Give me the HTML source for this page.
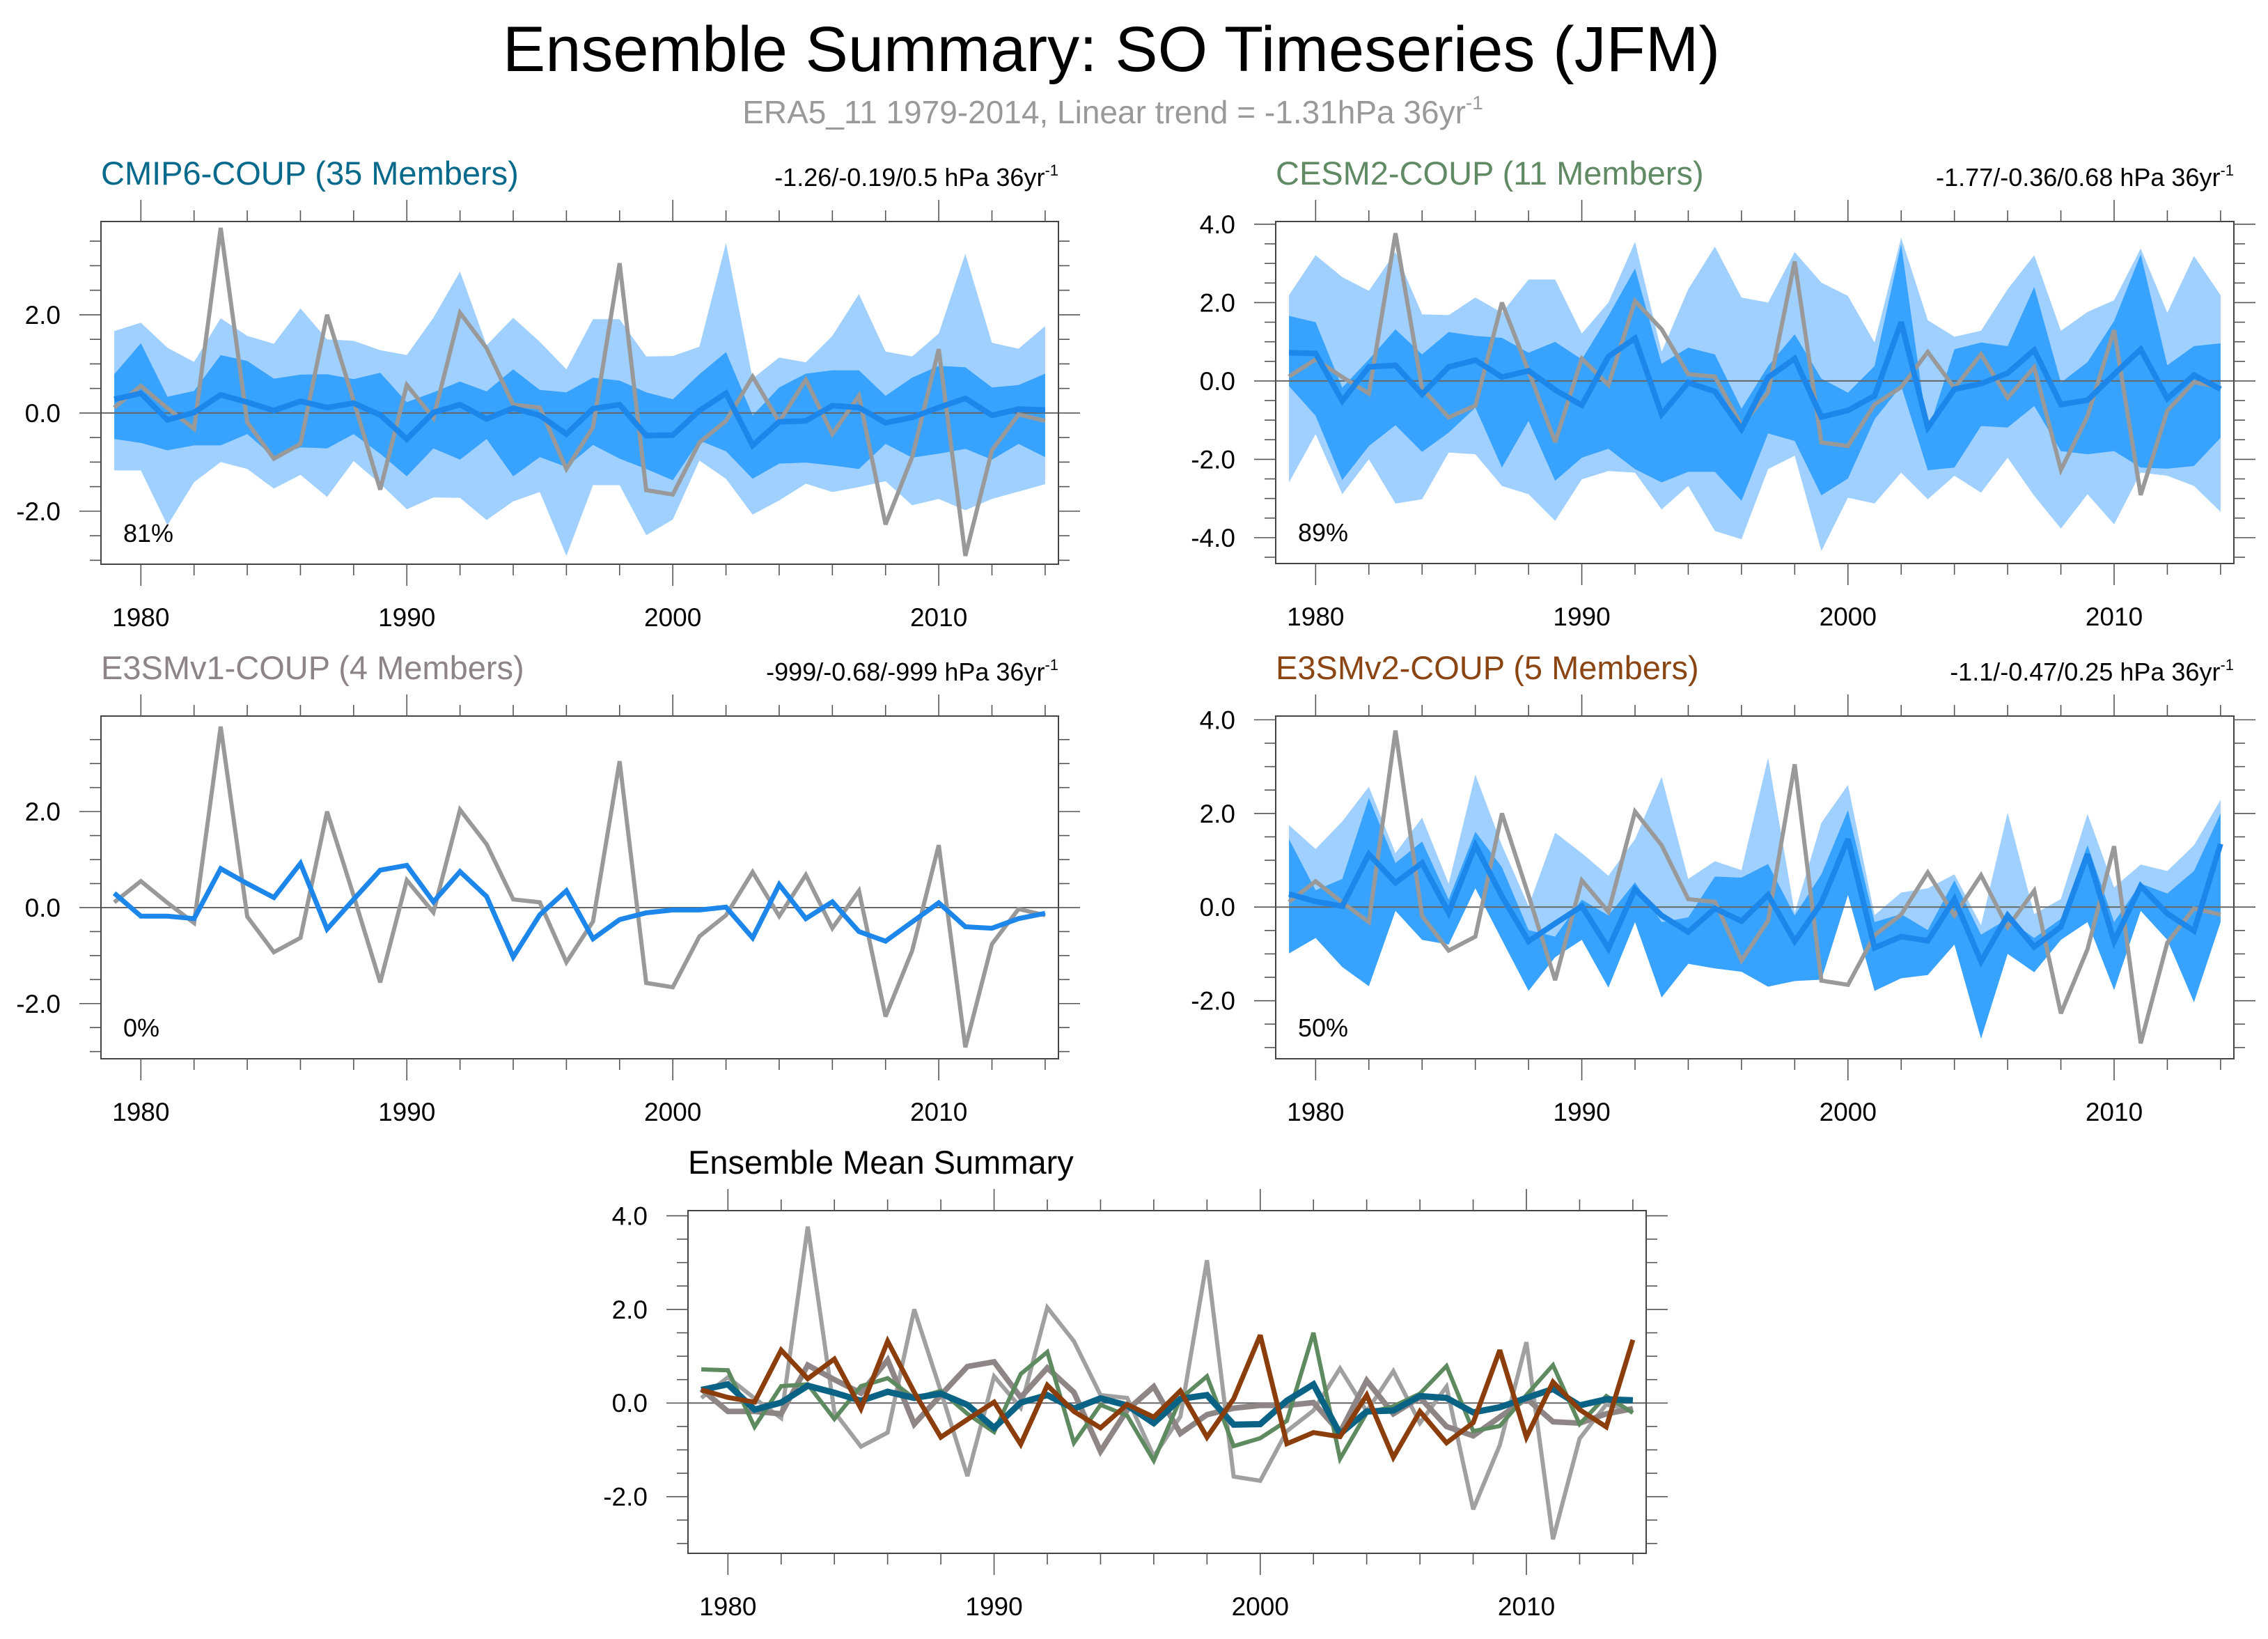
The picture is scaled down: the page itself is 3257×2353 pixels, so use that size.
<!DOCTYPE html>
<html><head><meta charset="utf-8"><style>
html,body{margin:0;padding:0;background:#fff;}
svg{display:block;font-family:"Liberation Sans",Arial,sans-serif;}
</style></head><body>
<svg id="chart" width="3257" height="2353" viewBox="0 0 3257 2353" xmlns="http://www.w3.org/2000/svg">
<rect width="3257" height="2353" fill="#fff"/>
<text x="1596" y="102" font-size="92" text-anchor="middle" fill="#000">Ensemble Summary: SO Timeseries (JFM)</text>
<text x="1598" y="177" font-size="46" text-anchor="middle" fill="#999">ERA5_11 1979-2014, Linear trend = -1.31hPa 36yr<tspan font-size="28" dy="-20">-1</tspan></text>
</svg>
<script>
const years = [];
for (let y = 1979; y <= 2014; y++) years.push(y);
const obs = [0.11,0.55,0.1,-0.32,3.77,-0.19,-0.93,-0.63,2.0,0.25,-1.56,0.57,-0.1,2.04,1.32,0.17,0.11,-1.14,-0.29,3.05,-1.57,-1.66,-0.6,-0.16,0.74,-0.18,0.68,-0.43,0.35,-2.27,-0.9,1.3,-2.91,-0.76,-0.03,-0.16];
const cmipMean = [0.28,0.4,-0.14,0.01,0.37,0.22,0.05,0.24,0.11,0.2,-0.04,-0.53,0.01,0.17,-0.12,0.1,-0.05,-0.43,0.09,0.17,-0.46,-0.45,0.05,0.4,-0.66,-0.18,-0.16,0.15,0.11,-0.2,-0.09,0.11,0.3,-0.05,0.08,0.06];
const cmipLightHi = [1.67,1.84,1.33,1.04,1.93,1.57,1.41,2.13,1.5,1.47,1.28,1.18,1.94,2.88,1.38,1.94,1.45,0.89,1.91,1.91,1.15,1.16,1.35,3.46,0.7,1.13,1.03,1.57,2.42,1.25,1.15,1.62,3.24,1.43,1.31,1.77];
const cmipLightLo = [-1.17,-1.17,-2.29,-1.41,-1.0,-1.14,-1.54,-1.26,-1.71,-0.98,-1.44,-1.96,-1.72,-1.73,-2.18,-1.8,-1.61,-2.91,-1.47,-1.47,-2.49,-2.17,-0.97,-1.34,-2.07,-1.78,-1.44,-1.61,-1.51,-1.39,-1.88,-1.75,-1.98,-1.75,-1.6,-1.45];
const cmipDarkHi = [0.79,1.42,0.33,0.45,1.18,1.06,0.7,0.78,0.79,0.69,0.82,0.22,0.42,0.64,0.44,0.89,0.47,0.42,0.72,0.66,0.42,0.28,0.79,1.24,-0.05,0.52,0.8,0.87,0.87,0.35,0.72,0.96,0.93,0.52,0.57,0.8];
const cmipDarkLo = [-0.53,-0.61,-0.76,-0.66,-0.66,-0.43,-0.9,-0.7,-0.72,-0.43,-0.83,-1.29,-0.72,-0.95,-0.53,-1.29,-0.9,-1.1,-0.65,-0.93,-1.14,-1.37,-0.56,-0.78,-1.34,-1.03,-1.01,-1.07,-1.14,-0.63,-0.91,-0.83,-0.73,-0.95,-0.63,-0.9];
const cesmMean = [0.72,0.7,-0.51,0.36,0.4,-0.34,0.36,0.53,0.1,0.26,-0.23,-0.62,0.62,1.09,-0.85,-0.04,-0.27,-1.23,0.09,0.57,-0.92,-0.75,-0.38,1.5,-1.19,-0.21,-0.07,0.2,0.79,-0.6,-0.49,0.17,0.81,-0.45,0.15,-0.21];
const cesmLightHi = [2.19,3.21,2.65,2.3,3.29,1.7,1.68,2.13,1.74,2.59,2.59,1.21,2.0,3.55,0.74,2.34,3.43,2.13,2.0,3.29,2.51,2.17,0.98,3.66,1.55,1.13,1.28,2.34,3.21,1.28,1.76,2.06,3.38,1.74,3.19,2.19];
const cesmLightLo = [-2.59,-1.36,-2.89,-2.0,-3.13,-3.02,-1.83,-1.87,-2.68,-2.89,-3.57,-2.51,-2.3,-2.34,-3.28,-2.68,-3.83,-4.04,-2.25,-1.91,-4.34,-2.98,-3.13,-2.34,-3.02,-2.42,-2.85,-1.96,-2.93,-3.77,-2.89,-3.66,-2.34,-2.42,-2.68,-3.34];
const cesmDarkHi = [1.66,1.5,-0.17,0.55,1.32,0.68,1.25,1.15,1.1,0.72,1.0,0.55,1.66,2.87,0.44,0.85,0.68,-0.71,0.38,1.19,0.06,-0.3,0.38,3.49,-1.32,0.81,0.98,0.89,2.4,-0.04,0.48,1.53,3.23,0.4,0.89,0.96];
const cesmDarkLo = [-0.13,-0.89,-2.53,-1.66,-1.13,-1.81,-1.32,-0.68,-2.21,-1.02,-2.55,-1.96,-1.73,-2.25,-2.59,-2.32,-2.32,-3.06,-1.34,-1.53,-2.92,-2.49,-0.98,-0.13,-2.28,-2.21,-1.15,-1.19,-0.64,-1.79,-1.87,-1.79,-2.21,-2.24,-2.17,-1.45];
const e3v1Mean = [0.3,-0.18,-0.18,-0.23,0.81,0.5,0.21,0.92,-0.45,0.17,0.78,0.88,0.12,0.75,0.23,-1.03,-0.15,0.35,-0.65,-0.25,-0.11,-0.05,-0.05,0.01,-0.63,0.48,-0.23,0.12,-0.5,-0.7,-0.3,0.1,-0.4,-0.43,-0.23,-0.12];
const e3v2Mean = [0.28,0.12,0.02,1.13,0.52,0.94,-0.12,1.32,0.23,-0.73,-0.35,0.02,-0.88,0.38,-0.18,-0.53,-0.03,-0.3,0.26,-0.73,0.09,1.45,-0.87,-0.63,-0.72,0.17,-1.16,-0.18,-0.85,-0.42,1.13,-0.73,0.45,-0.14,-0.51,1.35];
const e3v2LightHi = [1.75,1.24,1.83,2.57,1.15,1.91,0.5,2.83,1.32,0.02,1.59,1.15,0.67,1.45,2.78,0.6,0.98,0.79,3.19,-0.12,1.8,2.61,-0.17,0.31,0.4,0.7,-0.39,2.02,-0.15,0.17,1.99,0.42,0.91,0.77,1.32,2.29];
const e3v2DarkHi = [1.45,0.36,0.6,2.33,0.94,1.4,0.16,1.61,0.85,-0.49,-0.63,0.16,-0.18,0.53,-0.32,-0.22,0.65,0.63,0.92,-0.18,0.7,2.07,-0.32,-0.15,-0.49,0.57,-0.59,-0.25,-0.66,-0.25,1.32,-0.32,0.5,0.29,0.77,2.0];
const e3v2DarkLo = [-0.99,-0.66,-1.28,-1.69,-0.08,-0.7,-0.8,0.4,-0.7,-1.79,-1.07,-0.7,-1.72,-0.32,-1.93,-1.21,-1.31,-1.38,-1.7,-1.58,-1.55,0.26,-1.79,-1.52,-1.45,-0.8,-2.81,-1.0,-1.39,-0.7,-0.32,-1.77,-0.08,-0.7,-2.03,-0.32];
const e3v2LightLo = e3v2DarkLo;

const NS = 'http://www.w3.org/2000/svg';
const svg = document.getElementById('chart');
function mk(tag, attrs, parent) {
  const e = document.createElementNS(NS, tag);
  for (const k in attrs) e.setAttribute(k, attrs[k]);
  (parent || svg).appendChild(e);
  return e;
}
const LIGHT = '#a0d0ff', DARK = '#38a2ff', MEANC = '#1c86ea', OBSC = '#999999';

function panel(cfg) {
  const g = mk('g', {});
  
  
  const X = yr => cfg.l + (yr - 1978.5) / 36 * (cfg.r - cfg.l);
  const Y = v => cfg.b - (v - cfg.yMin) / (cfg.yMax - cfg.yMin) * (cfg.b - cfg.t);
  function band(hi, lo, color, nm) {
    let d = '';
    years.forEach((y, i) => { d += (i ? 'L' : 'M') + X(y).toFixed(1) + ' ' + Y(hi[i]).toFixed(1); });
    for (let i = years.length - 1; i >= 0; i--) d += 'L' + X(years[i]).toFixed(1) + ' ' + Y(lo[i]).toFixed(1);
    const p = mk('path', { d: d + 'Z', fill: color, stroke: 'none' }, g);
    
    
  }
  if (cfg.light) band(cfg.light[0], cfg.light[1], LIGHT, 'spread-band-10-90');
  if (cfg.dark) band(cfg.dark[0], cfg.dark[1], DARK, 'spread-band-25-75');
  const zl = mk('line', { x1: cfg.l, x2: cfg.r, y1: Y(0), y2: Y(0), stroke: '#666', 'stroke-width': 2 }, g);
  
  
  cfg.series.forEach(s => {
    const pts = years.map((y, i) => X(y).toFixed(1) + ',' + Y(s.v[i]).toFixed(1)).join(' ');
    const pl = mk('polyline', { points: pts, fill: 'none', stroke: s.c, 'stroke-width': s.w, 'stroke-linejoin': 'miter', 'stroke-miterlimit': 3 }, g);
    
    
  });
  const fr = mk('rect', { x: cfg.l, y: cfg.t, width: cfg.r - cfg.l, height: cfg.b - cfg.t, fill: 'none', stroke: '#444', 'stroke-width': 2 }, g);
  
  
  for (let y = 1980; y <= 2014; y += 2) {
    const major = y % 10 === 0;
    const len = major ? 31 : 16;
    mk('line', { x1: X(y), x2: X(y), y1: cfg.b, y2: cfg.b + len, stroke: '#555', 'stroke-width': 1.6 }, g);
    mk('line', { x1: X(y), x2: X(y), y1: cfg.t, y2: cfg.t - len, stroke: '#555', 'stroke-width': 1.6 }, g);
    if (major) {
      const tl = mk('text', { x: X(y), y: cfg.b + 89, 'font-size': 37, 'text-anchor': 'middle', fill: '#000' }, g);
      tl.textContent = y;
      
      
    }
  }
  for (let k = Math.ceil(cfg.yMin * 2); k <= Math.floor(cfg.yMax * 2); k++) {
    const v = k / 2;
    const major = k % 4 === 0;
    const len = major ? 31 : 16;
    mk('line', { x1: cfg.l, x2: cfg.l - len, y1: Y(v), y2: Y(v), stroke: '#555', 'stroke-width': 1.6 }, g);
    mk('line', { x1: cfg.r, x2: cfg.r + len, y1: Y(v), y2: Y(v), stroke: '#555', 'stroke-width': 1.6 }, g);
    if (major) {
      const tl = mk('text', { x: cfg.l - 58, y: Y(v) + 13, 'font-size': 37, 'text-anchor': 'end', fill: '#000' }, g);
      tl.textContent = v.toFixed(1);
      
      
    }
  }
  const tt = mk('text', { x: cfg.l, y: cfg.t - 53, 'font-size': 47, fill: cfg.tc }, g);
  tt.textContent = cfg.title;
  
  
  if (cfg.trend) {
    const tr = mk('text', { x: cfg.r, y: cfg.t - 51, 'font-size': 36, 'text-anchor': 'end', fill: '#000' }, g);
    tr.textContent = cfg.trend;
    const sup = mk('tspan', { 'font-size': 22, dy: -15 }, tr);
    sup.textContent = '-1';
    
    
  }
  if (cfg.pct) {
    const pc = mk('text', { x: cfg.l + 32, y: cfg.b - 32, 'font-size': 36, fill: '#000' }, g);
    pc.textContent = cfg.pct;
    
    
  }
}

panel({ name: 'cmip6-panel', l: 145, r: 1520, t: 318, b: 810, yMin: -3.08, yMax: 3.9,
  light: [cmipLightHi, cmipLightLo], dark: [cmipDarkHi, cmipDarkLo],
  series: [{ v: obs, c: OBSC, w: 6, n: 'obs-line' }, { v: cmipMean, c: MEANC, w: 8, n: 'ensemble-mean-line' }],
  title: 'CMIP6-COUP (35 Members)', tc: '#05698c', trend: '-1.26/-0.19/0.5 hPa 36yr', pct: '81%' });
panel({ name: 'cesm2-panel', l: 1832, r: 3208, t: 318, b: 809, yMin: -4.66, yMax: 4.07,
  light: [cesmLightHi, cesmLightLo], dark: [cesmDarkHi, cesmDarkLo],
  series: [{ v: obs, c: OBSC, w: 6, n: 'obs-line' }, { v: cesmMean, c: MEANC, w: 8, n: 'ensemble-mean-line' }],
  title: 'CESM2-COUP (11 Members)', tc: '#5f8a63', trend: '-1.77/-0.36/0.68 hPa 36yr', pct: '89%' });
panel({ name: 'e3smv1-panel', l: 145, r: 1520, t: 1028, b: 1520, yMin: -3.15, yMax: 3.99,
  series: [{ v: obs, c: OBSC, w: 6, n: 'obs-line' }, { v: e3v1Mean, c: MEANC, w: 7, n: 'ensemble-mean-line' }],
  title: 'E3SMv1-COUP (4 Members)', tc: '#8c8486', trend: '-999/-0.68/-999 hPa 36yr', pct: '0%' });
panel({ name: 'e3smv2-panel', l: 1832, r: 3208, t: 1028, b: 1520, yMin: -3.24, yMax: 4.08,
  light: [e3v2LightHi, e3v2LightLo], dark: [e3v2DarkHi, e3v2DarkLo],
  series: [{ v: obs, c: OBSC, w: 6, n: 'obs-line' }, { v: e3v2Mean, c: MEANC, w: 8, n: 'ensemble-mean-line' }],
  title: 'E3SMv2-COUP (5 Members)', tc: '#8b4513', trend: '-1.1/-0.47/0.25 hPa 36yr', pct: '50%' });
panel({ name: 'ensemble-mean-summary-panel', l: 988, r: 2364, t: 1738, b: 2230, yMin: -3.21, yMax: 4.11,
  series: [
    { v: obs, c: '#a0a0a0', w: 6, n: 'obs-line' },
    { v: e3v1Mean, c: '#8e8587', w: 8, n: 'e3smv1-mean-line' },
    { v: cesmMean, c: '#5e8a60', w: 6, n: 'cesm2-mean-line' },
    { v: cmipMean, c: '#0a6385', w: 9, n: 'cmip6-mean-line' },
    { v: e3v2Mean, c: '#8b3d0c', w: 7, n: 'e3smv2-mean-line' }],
  title: 'Ensemble Mean Summary', tc: '#000' });
</script>
</body></html>
